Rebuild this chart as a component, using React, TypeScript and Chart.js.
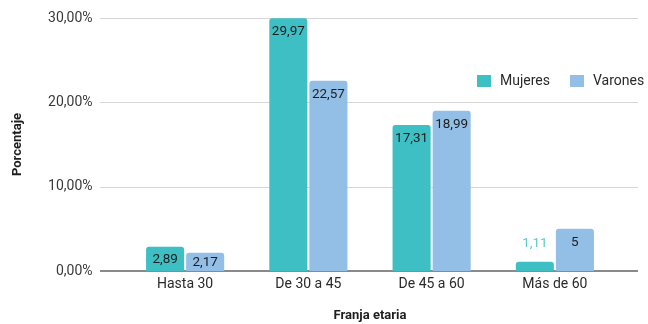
import React, { useEffect, useRef } from "react";
import { Chart, registerables } from "chart.js";

Chart.register(...registerables);

const categories = ["Hasta 30", "De 30 a 45", "De 45 a 60", "Más de 60"];
const mujeres = [2.89, 29.97, 17.31, 1.11];
const varones = [2.17, 22.57, 18.99, 5];
const yTicks = [0, 10, 20, 30];
const seriesNames = ["Mujeres", "Varones"];
const seriesColors = ["#3dbfc4", "#93bee6"];

const FONT = "Roboto, 'Liberation Sans', Arial, sans-serif";

const fmt = (v: number) => v.toString().replace(".", ",");

const gridPlugin = {
  id: "customGrid",
  beforeDatasetsDraw(chart: any) {
    const { ctx } = chart;
    const y = chart.scales.y;
    ctx.save();
    yTicks.forEach((t) => {
      const py = Math.round(y.getPixelForValue(t));
      ctx.beginPath();
      if (t === 0) {
        ctx.strokeStyle = "#8a8a8a";
        ctx.lineWidth = 2;
      } else {
        ctx.strokeStyle = "#d6d6d6";
        ctx.lineWidth = 1;
      }
      const off = t === 0 ? 0 : 0.5;
      ctx.moveTo(100, py + off);
      ctx.lineTo(638, py + off);
      ctx.stroke();
    });
    ctx.restore();
  },
};

const labelPlugin = {
  id: "barLabels",
  afterDatasetsDraw(chart: any) {
    const { ctx } = chart;
    ctx.save();
    ctx.font = `13.5px ${FONT}`;
    ctx.textAlign = "center";
    ctx.textBaseline = "middle";
    chart.data.datasets.forEach((ds: any, di: number) => {
      const meta = chart.getDatasetMeta(di);
      meta.data.forEach((bar: any, i: number) => {
        const v = ds.data[i];
        const h = bar.base - bar.y;
        let cy: number;
        let color = "#1e1e1e";
        if (h < 14) {
          cy = bar.y - 18;
          color = seriesColors[di];
          ctx.globalAlpha = 0.85;
        } else {
          cy = bar.y + Math.min(13.5, h / 2 + 1);
          ctx.globalAlpha = 1;
        }
        ctx.fillStyle = color;
        ctx.fillText(fmt(v), bar.x, cy);
      });
    });
    ctx.restore();
  },
};

const legendPlugin = {
  id: "customLegend",
  afterDraw(chart: any) {
    const { ctx } = chart;
    ctx.save();
    ctx.font = `14px ${FONT}`;
    ctx.textBaseline = "middle";
    ctx.textAlign = "left";
    const xs = [477, 570];
    const cy = 81;
    seriesNames.forEach((n, i) => {
      ctx.fillStyle = seriesColors[i];
      ctx.fillRect(xs[i], cy - 6, 14, 12);
      ctx.fillStyle = "#2a2a2a";
      ctx.fillText(n, xs[i] + 23, cy);
    });
    ctx.restore();
  },
};

export default function App() {
  const ref = useRef<HTMLCanvasElement>(null);
  useEffect(() => {
    if (!ref.current) return;
    const chart = new Chart(ref.current, {
      type: "bar",
      data: {
        labels: categories,
        datasets: [
          {
            label: seriesNames[0],
            data: mujeres,
            backgroundColor: seriesColors[0],
            borderRadius: { topLeft: 3, topRight: 3, bottomLeft: 0, bottomRight: 0 },
            borderSkipped: false,
            categoryPercentage: 0.65,
            barPercentage: 0.95,
          },
          {
            label: seriesNames[1],
            data: varones,
            backgroundColor: seriesColors[1],
            borderRadius: { topLeft: 3, topRight: 3, bottomLeft: 0, bottomRight: 0 },
            borderSkipped: false,
            categoryPercentage: 0.65,
            barPercentage: 0.95,
          },
        ],
      },
      options: {
        animation: false,
        responsive: false,
        maintainAspectRatio: false,
        layout: { padding: { top: 0, right: 31.5, bottom: 0, left: 0 } },
        plugins: {
          legend: { display: false },
          tooltip: { enabled: false },
        },
        scales: {
          x: {
            grid: { display: false, drawTicks: false },
            border: { display: false },
            ticks: {
              color: "#2a2a2a",
              font: { family: FONT, size: 14 },
              padding: 5,
              maxRotation: 0,
            },
            title: {
              display: true,
              text: "Franja etaria",
              color: "#1e1e1e",
              font: { family: FONT, size: 13, weight: "bold" },
              padding: { top: 0, bottom: 0 },
            },
            afterFit(scale: any) {
              scale.height = 53;
              scale.paddingLeft = 0;
              scale.paddingRight = 0;
            },
          },
          y: {
            min: 0,
            max: 30,
            grid: { display: false, drawTicks: false },
            border: { display: false },
            ticks: {
              stepSize: 10,
              color: "#3a3a3a",
              font: { family: FONT, size: 14 },
              padding: 31,
              callback: (v: any) => Number(v).toFixed(2).replace(".", ",") + "%",
            },
            afterBuildTicks(scale: any) {
              scale.ticks = yTicks.map((v) => ({ value: v }));
            },
            title: {
              display: true,
              text: "Porcentaje",
              color: "#1e1e1e",
              font: { family: FONT, size: 13, weight: "bold" },
              padding: { top: 10, bottom: 0 },
            },
            afterFit(scale: any) {
              scale.width = 123.5;
              scale.paddingTop = 18;
              scale.paddingBottom = 0;
            },
          },
        },
      },
      plugins: [gridPlugin, labelPlugin, legendPlugin],
    });
    return () => chart.destroy();
  }, []);
  return (
    <div style={{ position: "fixed", left: 0, top: 0, width: 648, height: 324, background: "#fff" }}>
      <canvas ref={ref} width={648} height={324} style={{ width: 648, height: 324 }} />
    </div>
  );
}
